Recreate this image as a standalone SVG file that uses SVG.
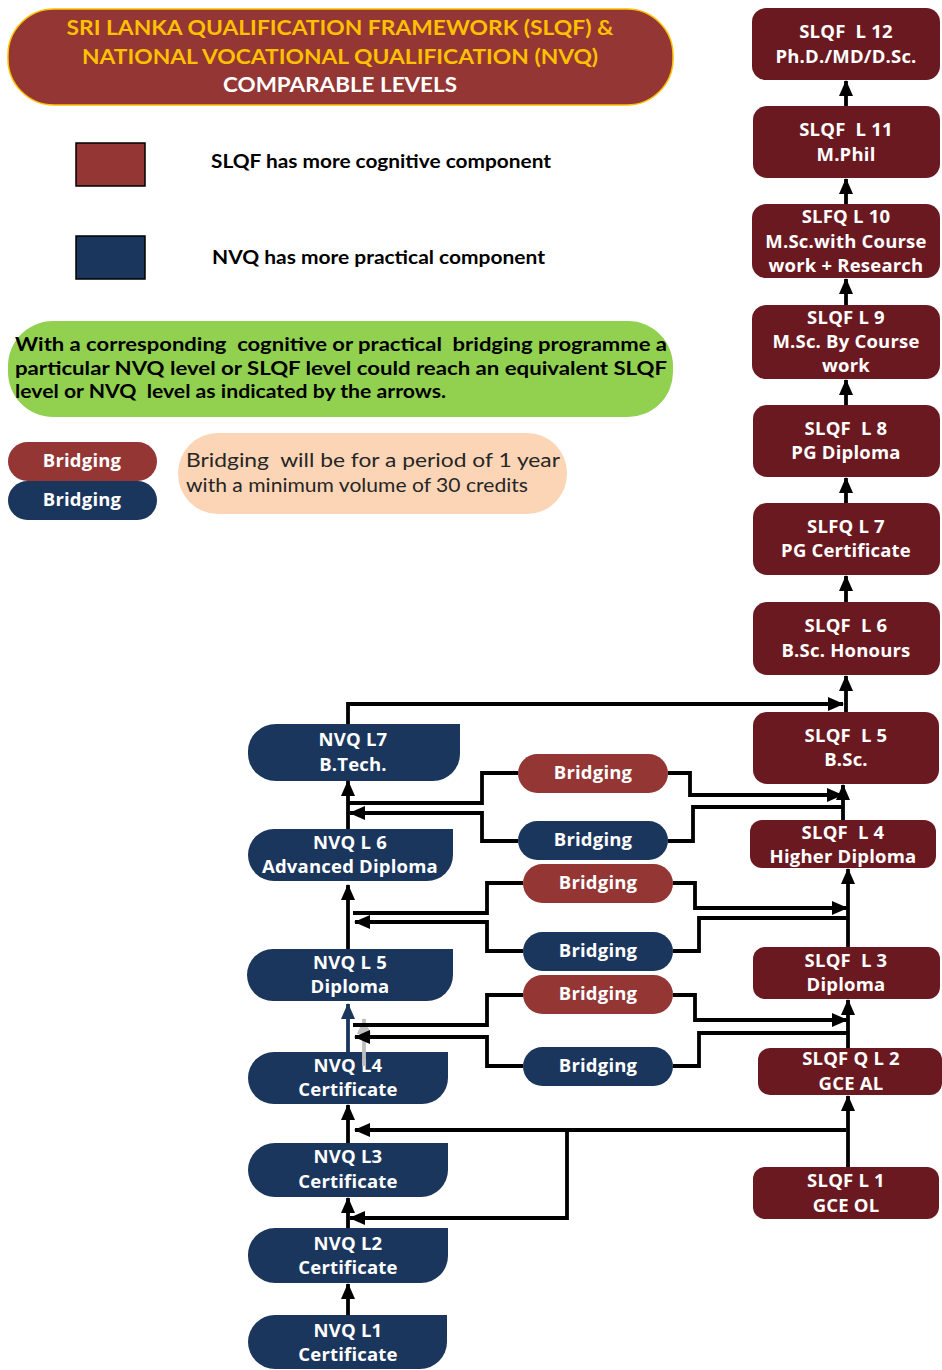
<svg xmlns="http://www.w3.org/2000/svg" width="942" height="1370" viewBox="0 0 942 1370">
<defs>
<marker id="ah" viewBox="0 0 16 14" refX="15" refY="7" markerWidth="16" markerHeight="14" markerUnits="userSpaceOnUse" orient="auto">
<path d="M0,0 L16,7 L0,14 Z" fill="#000"/>
</marker>
<marker id="ahb" viewBox="0 0 16 14" refX="15" refY="7" markerWidth="16" markerHeight="14" markerUnits="userSpaceOnUse" orient="auto">
<path d="M0,0 L16,7 L0,14 Z" fill="#1B365D"/>
</marker>
<marker id="ahg" viewBox="0 0 16 14" refX="15" refY="7" markerWidth="16" markerHeight="14" markerUnits="userSpaceOnUse" orient="auto">
<path d="M0,0 L16,7 L0,14 Z" fill="#BFBFBF"/>
</marker>
</defs>
<style>
text{white-space:pre;}
.slqf{fill:#6B1921;}
.nvq{fill:#1B365D;}
.bred{fill:#943634;}
.bblue{fill:#1B365D;}
.nt{font-family:"Open Sans","DejaVu Sans",sans-serif;font-weight:bold;font-size:18.5px;fill:#fff;text-anchor:middle;letter-spacing:0.2px;}
.lt{font-family:Lato,"Liberation Sans",sans-serif;font-weight:bold;font-size:18px;fill:#000;}
.gt{font-family:Lato,"Liberation Sans",sans-serif;font-weight:bold;font-size:19.5px;fill:#000;}
.ttl{font-family:Lato,"Liberation Sans",sans-serif;font-weight:bold;font-size:21px;text-anchor:middle;}
.pt{font-family:Lato,"Liberation Sans",sans-serif;font-size:19.5px;fill:#262626;}
.c{fill:none;stroke:#000;stroke-width:3.8;}
.ca{fill:none;stroke:#000;stroke-width:3.8;marker-end:url(#ah);}
</style>

<g id="title">
<rect x="8" y="9" width="665" height="96" rx="46" fill="#943634" stroke="#FFC000" stroke-width="1.5"/>
<text class="ttl" x="340" y="35" fill="#FFC000" textLength="547" lengthAdjust="spacingAndGlyphs">SRI LANKA QUALIFICATION FRAMEWORK (SLQF) &amp;</text>
<text class="ttl" x="340" y="64" fill="#FFC000" textLength="516" lengthAdjust="spacingAndGlyphs">NATIONAL VOCATIONAL QUALIFICATION (NVQ)</text>
<text class="ttl" x="340" y="92" fill="#FFFFFF" textLength="234" lengthAdjust="spacingAndGlyphs">COMPARABLE LEVELS</text>
</g>

<g id="legend-slqf">
<rect x="76" y="143" width="69" height="43" fill="#943634" stroke="#000" stroke-width="1.5"/>
<text class="lt" x="211" y="168" textLength="340" lengthAdjust="spacingAndGlyphs">SLQF has more cognitive component</text>
</g>
<g id="legend-nvq">
<rect x="76" y="236" width="69" height="43" fill="#1B365D" stroke="#000" stroke-width="1.5"/>
<text class="lt" x="212" y="264" textLength="333" lengthAdjust="spacingAndGlyphs">NVQ has more practical component</text>
</g>

<g id="note-green">
<rect x="8" y="321" width="665" height="96" rx="45" fill="#92D050"/>
<text class="gt" x="15" y="351" textLength="652" lengthAdjust="spacingAndGlyphs">With a corresponding  cognitive or practical  bridging programme a</text>
<text class="gt" x="15" y="375" textLength="652" lengthAdjust="spacingAndGlyphs">particular NVQ level or SLQF level could reach an equivalent SLQF</text>
<text class="gt" x="15" y="398" textLength="431" lengthAdjust="spacingAndGlyphs">level or NVQ  level as indicated by the arrows.</text>
</g>

<g id="legend-bridging-red">
<rect x="8" y="442" width="149" height="39" rx="19.5" class="bred"/>
<text class="nt" x="82" y="467">Bridging</text>
</g>
<g id="legend-bridging-blue">
<rect x="8" y="481" width="149" height="39" rx="19.5" class="bblue"/>
<text class="nt" x="82" y="506">Bridging</text>
</g>

<g id="note-peach">
<rect x="178" y="433" width="389" height="81" rx="40" fill="#FBD5B5"/>
<text class="pt" x="186" y="467" textLength="374" lengthAdjust="spacingAndGlyphs">Bridging  will be for a period of 1 year</text>
<text class="pt" x="186" y="492" textLength="342" lengthAdjust="spacingAndGlyphs">with a minimum volume of 30 credits</text>
</g>

<!-- SLQF column -->
<g id="slqf-l12"><rect x="752" y="8" width="188" height="72" rx="14" class="slqf"/>
<text class="nt" x="846" y="38">SLQF  L 12</text><text class="nt" x="846" y="63">Ph.D./MD/D.Sc.</text></g>
<g id="slqf-l11"><rect x="753" y="106" width="187" height="72" rx="14" class="slqf"/>
<text class="nt" x="846" y="136">SLQF  L 11</text><text class="nt" x="846" y="161">M.Phil</text></g>
<g id="slqf-l10"><rect x="752" y="204" width="188" height="74" rx="14" class="slqf"/>
<text class="nt" x="846" y="223">SLFQ L 10</text><text class="nt" x="846" y="248">M.Sc.with Course</text><text class="nt" x="846" y="272">work + Research</text></g>
<g id="slqf-l9"><rect x="752" y="305" width="188" height="74" rx="14" class="slqf"/>
<text class="nt" x="846" y="324">SLQF L 9</text><text class="nt" x="846" y="348">M.Sc. By Course</text><text class="nt" x="846" y="372">work</text></g>
<g id="slqf-l8"><rect x="753" y="405" width="187" height="72" rx="14" class="slqf"/>
<text class="nt" x="846" y="435">SLQF  L 8</text><text class="nt" x="846" y="459">PG Diploma</text></g>
<g id="slqf-l7"><rect x="753" y="503" width="187" height="72" rx="14" class="slqf"/>
<text class="nt" x="846" y="533">SLFQ L 7</text><text class="nt" x="846" y="557">PG Certificate</text></g>
<g id="slqf-l6"><rect x="753" y="602" width="187" height="73" rx="14" class="slqf"/>
<text class="nt" x="846" y="632">SLQF  L 6</text><text class="nt" x="846" y="657">B.Sc. Honours</text></g>
<g id="slqf-l5"><rect x="753" y="712" width="186" height="72" rx="14" class="slqf"/>
<text class="nt" x="846" y="742">SLQF  L 5</text><text class="nt" x="846" y="766">B.Sc.</text></g>
<g id="slqf-l4"><rect x="750" y="820" width="186" height="48" rx="12" class="slqf"/>
<text class="nt" x="843" y="839">SLQF  L 4</text><text class="nt" x="843" y="863">Higher Diploma</text></g>
<g id="slqf-l3"><rect x="753" y="947" width="187" height="52" rx="12" class="slqf"/>
<text class="nt" x="846" y="967">SLQF  L 3</text><text class="nt" x="846" y="991">Diploma</text></g>
<g id="slqf-l2"><rect x="758" y="1048" width="184" height="47" rx="12" class="slqf"/>
<text class="nt" x="851" y="1065">SLQF Q L 2</text><text class="nt" x="851" y="1090">GCE AL</text></g>
<g id="slqf-l1"><rect x="753" y="1167" width="186" height="52" rx="12" class="slqf"/>
<text class="nt" x="846" y="1187">SLQF L 1</text><text class="nt" x="846" y="1212">GCE OL</text></g>

<!-- NVQ column -->
<g id="nvq-l7"><path class="nvq" d="M276,724 H460 V754 A27,27 0 0 1 433,781 H276 A28,27 0 0 1 248,754 V751 A28,27 0 0 1 276,724 Z"/>
<text class="nt" x="353" y="746">NVQ L7</text><text class="nt" x="353" y="771">B.Tech.</text></g>
<g id="nvq-l6"><path class="nvq" d="M274,829 H453 V855 A26,26 0 0 1 427,881 H274 A26,26 0 0 1 248,855 A26,26 0 0 1 274,829 Z"/>
<text class="nt" x="350" y="849">NVQ L 6</text><text class="nt" x="350" y="873">Advanced Diploma</text></g>
<g id="nvq-l5"><path class="nvq" d="M273,949 H453 V975 A26,26 0 0 1 427,1001 H273 A26,26 0 0 1 247,975 A26,26 0 0 1 273,949 Z"/>
<text class="nt" x="350" y="969">NVQ L 5</text><text class="nt" x="350" y="993">Diploma</text></g>
<g id="nvq-l4"><path class="nvq" d="M274,1052 H448 V1078 A26,26 0 0 1 422,1104 H274 A26,26 0 0 1 248,1078 A26,26 0 0 1 274,1052 Z"/>
<text class="nt" x="348" y="1072">NVQ L4</text><text class="nt" x="348" y="1096">Certificate</text></g>
<g id="nvq-l3"><path class="nvq" d="M275,1143 H448 V1170 A27,27 0 0 1 421,1197 H275 A27,27 0 0 1 248,1170 A27,27 0 0 1 275,1143 Z"/>
<text class="nt" x="348" y="1163">NVQ L3</text><text class="nt" x="348" y="1188">Certificate</text></g>
<g id="nvq-l2"><path class="nvq" d="M275,1228 H448 V1256 A27,27 0 0 1 421,1283 H275 A27,27 0 0 1 248,1256 A27,27 0 0 1 275,1228 Z"/>
<text class="nt" x="348" y="1250">NVQ L2</text><text class="nt" x="348" y="1274">Certificate</text></g>
<g id="nvq-l1"><path class="nvq" d="M275,1315 H447 V1342 A27,27 0 0 1 420,1369 H275 A27,27 0 0 1 248,1342 A27,27 0 0 1 275,1315 Z"/>
<text class="nt" x="348" y="1337">NVQ L1</text><text class="nt" x="348" y="1361">Certificate</text></g>

<!-- Bridging nodes -->
<g id="br-red-1"><rect x="518" y="754" width="150" height="39" rx="19.5" class="bred"/><text class="nt" x="593" y="779">Bridging</text></g>
<g id="br-blue-1"><rect x="518" y="821" width="150" height="39" rx="19.5" class="bblue"/><text class="nt" x="593" y="846">Bridging</text></g>
<g id="br-red-2"><rect x="523" y="864" width="150" height="39" rx="19.5" class="bred"/><text class="nt" x="598" y="889">Bridging</text></g>
<g id="br-blue-2"><rect x="523" y="932" width="150" height="39" rx="19.5" class="bblue"/><text class="nt" x="598" y="957">Bridging</text></g>
<g id="br-red-3"><rect x="523" y="975" width="150" height="39" rx="19.5" class="bred"/><text class="nt" x="598" y="1000">Bridging</text></g>
<g id="br-blue-3"><rect x="523" y="1047" width="150" height="39" rx="19.5" class="bblue"/><text class="nt" x="598" y="1072">Bridging</text></g>

<g id="connectors">
<!-- SLQF vertical chain -->
<path class="ca" d="M846,106 V81"/>
<path class="ca" d="M846,204 V179"/>
<path class="ca" d="M846,305 V279"/>
<path class="ca" d="M846,405 V380"/>
<path class="ca" d="M846,503 V478"/>
<path class="ca" d="M846,602 V576"/>
<path class="ca" d="M846,712 V676"/>
<path class="ca" d="M843,820 V785"/>
<path class="ca" d="M848,947 V869"/>
<path class="ca" d="M848,1048 V1000"/>
<path class="ca" d="M848,1167 V1096"/>
<!-- NVQ vertical chain -->
<path class="ca" d="M348,1315 V1284"/>
<path class="ca" d="M348,1228 V1198"/>
<path class="ca" d="M348,1143 V1105"/>
<path fill="none" stroke="#1B365D" stroke-width="3.8" marker-end="url(#ahb)" d="M348,1052 V1004"/>
<path fill="none" stroke="#BFBFBF" stroke-width="3.8" marker-end="url(#ahg)" d="M364,1066 V1019"/>
<path class="ca" d="M348,949 V885"/>
<path class="ca" d="M348,829 V781"/>
<!-- NVQ L7 to SLQF L6 -->
<path class="ca" d="M348,724 V704 H843"/>
<!-- bridging group 1 -->
<path class="c" d="M518,773 H482 V803 H348"/>
<path class="ca" d="M518,841 H482 V813 H350"/>
<path class="ca" d="M668,773 H690 V795 H842"/>
<path class="c" d="M668,841 H693 V807 H843"/>
<!-- bridging group 2 -->
<path class="c" d="M523,883 H487 V913 H353"/>
<path class="ca" d="M523,951 H487 V922 H355"/>
<path class="ca" d="M673,883 H695 V908 H847"/>
<path class="c" d="M673,951 H699 V918 H848"/>
<!-- bridging group 3 -->
<path class="c" d="M523,995 H487 V1025 H353"/>
<path class="ca" d="M523,1066 H487 V1037 H355"/>
<path class="ca" d="M673,995 H695 V1020 H847"/>
<path class="c" d="M673,1066 H699 V1033 H848"/>
<!-- SLQF to NVQ L3/L4 -->
<path class="ca" d="M846,1130 H355"/>
<path class="ca" d="M567,1130 V1218 H350"/>
</g>
</svg>
